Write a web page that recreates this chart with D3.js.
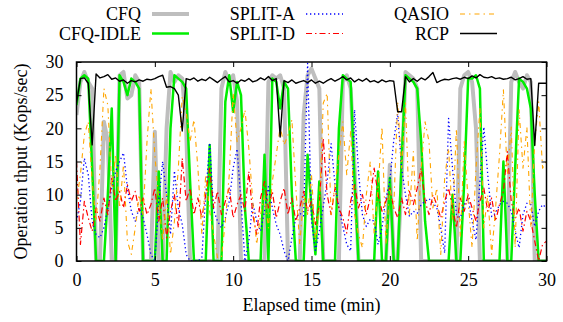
<!DOCTYPE html>
<html>
<head>
<meta charset="utf-8">
<script src="https://cdn.jsdelivr.net/npm/d3@7"></script>
<style>
  body { margin: 0; background: #fff; }
</style>
</head>
<body>
<div id="chart"></div>
<script>
// sample times (min), one sample every 15 s
const times = d3.range(0, 30.001, 0.25);

const cfq = [22,27,28.5,27,26,0,0,21,18,0,0,28,28.5,24.5,25,28,27,0,0,0,19.5,0,0,20,28.5,27,28,27.5,20,0,
  0,0,0,0,0,0,0,26,28.5,27,28,24,0,0,0,0,0,0,0,27,28,27.5,28,26,0,0,0,0,22,28,
  29,27.5,26,0,0,0,0,0,27,28,26,14,0,0,0,0,0,0,0,0,14.5,0,0,12,28.5,28,27.5,26,0,0,
  0,0,0,0,0,0,0,0,26,28,28.5,27,20,0,0,0,0,0,0,0,0,27,28.5,27,26,28,27,0,0,0,0];

const cfqIdle = [23.5,27.5,28,27.5,14,0,0,0,10,23,0,28,27,25,27.5,27,26,0,0,0,0,13.5,0,0,20,28,27.5,27,26,12,
  0,0,0,0,17.5,0,0,0,24,28,22.5,27,25,8,0,0,0,0,16,0,27.5,27,23,27,26,10,0,0,0,16,
  8,1,12,0,0,0,0,20,28,27.5,27,12,0,0,0,0,0,13.5,0,0,12.5,0,0,15,28,27.5,27,26,18,6,
  0,0,0,0,0,0,10,0,0,12,27.5,27.5,28,26,0,0,0,0,0,15,0,0,14,27.5,27,26,23,10,0,0,0];

const splitA = [6,9,15.5,13,6,4,3.5,5,8,11,13.5,15,16.3,11,7.5,6,8,6.5,4,1,0,9,15,10,4,13.6,8,5.5,1,0,
  0,0,0.5,10,17.8,7.7,6,5,6.5,9,14,16.9,9,0,3,8.8,6,4.5,7.5,11.2,8,5.5,4,1.5,0,3.5,6.5,7.2,6.8,29.8,
  6,1.6,4.5,8.2,12,17.7,11.5,8,5.2,2.5,1.5,22.8,13.5,7,5.2,6.3,6,2.5,5,9.5,12,18.2,22.2,14,10,6.7,7.5,7.2,8.5,9,
  9.4,8.8,8,5,1.2,21.5,14,7,6.5,8.5,9.5,6,3.2,12,20.2,13,6.7,7.2,8.5,9,8.7,7.5,4.5,2,7,8.7,8.5,5.2,7.5,8.5,8];

const splitD = [15,2.5,9,6.5,4.5,8,6,9.5,7,12.5,9,10.5,8,11.5,9,10.5,7.5,9.5,7,8.5,11,6,9.5,3.5,7.5,10,5,15.5,9,11,
  7,9.5,6.5,10,14,8,10.5,7,9,11,6.5,8.5,10,7.5,13.5,7,4,9.5,12,8,10.5,6.5,9,11,7,9.5,6,8,10.5,7.5,
  9,5.5,8.5,18.5,10,7,11,8,6.5,4.2,9,11.5,8,10,7,9.5,14,10,7.5,9,11,8,6.5,9.5,7,10.5,8.5,11,14,9,
  7,10,8.5,6.5,9,11,8,5,9.5,7.5,10,8,6,9,11,7.5,9.5,6,8.5,10.5,16.5,9,6.5,8,4.5,7.5,6,3,0,2.5,3];

const qasio = [9,13,19,21,12,6,14,26,23.5,11,16,8,14.5,3,1,5,10,7,18,26,16,9,3,10,1,6,14,24.8,22.5,18,
  21.3,14,4,13,7.5,4,0.5,0.5,6,13,25.3,18,20,22.8,17,9,2.5,7,10,5,12,16,20.2,17.5,19,21.3,11,2.5,10,7,
  13,3,8,23.8,25.3,7,11.5,16,21,13,19.5,7,4,2,10,15,4,11,20.2,2.5,11,8,24,14,23.8,7,16.5,3,14,21,
  18,8,11,1,12.5,17,6,20,3.5,18,9,2,14,23,5,10,1,8,16,25.8,13,20.2,2,22.8,14,20.2,5,18,24,14,15];

const rcp = [23.8,27.5,27.6,26.8,17.5,28.2,27.6,27.8,28.1,27.4,27.6,27.1,27.3,26.8,27.2,27,27.3,27.1,27.4,27.3,27.5,27.8,28,26.2,26.3,26,25,19.6,27.5,27.3,
  27.6,27.1,27.4,27.2,27.7,27.3,26.9,27.4,27.8,27,27.2,26.8,27.3,27.1,27.5,27,27.2,27.6,27.3,27.8,27.2,27.5,18.7,27.2,26.9,27.3,26.8,27,27.2,26.9,
  27.3,26.8,27.1,26.8,27.2,27.5,27.1,27.4,27.8,27.3,27.6,27,27.4,27.1,27.5,27,27.2,26.9,27.3,27,27.2,27.1,22.5,22.5,27.8,27,27.5,27.1,27.6,27.3,
  27.8,28.4,26.9,27.2,27.4,27.3,27.5,27.6,27.4,27.7,27.5,27.9,27.6,28.1,27.7,27.6,27.8,27.5,27.6,27.4,27.5,27.7,27.3,27.5,27.8,27.4,27.5,17.4,26.8,26.8,26.8];

const xTicks = [0, 5, 10, 15, 20, 25, 30];
const yTicks = [0, 5, 10, 15, 20, 25, 30];

const series = [
  {name: 'CFQ', values: cfq, color: '#bebebe', width: 4, dash: null},
  {name: 'CFQ-IDLE', values: cfqIdle, color: '#00ee00', width: 2.5, dash: null},
  {name: 'SPLIT-A', values: splitA, color: '#0000ff', width: 1.3, dash: '1.3,2.7'},
  {name: 'SPLIT-D', values: splitD, color: '#ff0000', width: 1.2, dash: '6,3,1.5,3'},
  {name: 'QASIO', values: qasio, color: '#ffa500', width: 1.1, dash: '5,4,1.5,4'},
  {name: 'RCP', values: rcp, color: '#000000', width: 1.4, dash: null}
];

const margin = {top: 62, left: 76.5};
const width = 470;
const height = 199;
const font = '"Liberation Serif"';
const fontSize = 18;

const svg = d3.select('#chart')
  .append('svg')
    .attr('width', 563)
    .attr('height', 322);

const g = svg.append('g')
  .attr('transform', 'translate(' + margin.left + ',' + margin.top + ')');

const x = d3.scaleLinear().domain([0, 30]).range([0, width]);
const y = d3.scaleLinear().domain([0, 30]).range([height, 0]);

g.append('clipPath').attr('id', 'clip')
  .append('rect').attr('width', width).attr('height', height);

// data lines
const line = d3.line()
  .x((d, i) => x(times[i]))
  .y(d => y(d));

g.append('g').attr('clip-path', 'url(#clip)')
  .selectAll('path')
  .data(series)
  .enter()
  .append('path')
    .attr('d', d => line(d.values))
    .attr('fill', 'none')
    .attr('stroke', d => d.color)
    .attr('stroke-width', d => d.width)
    .attr('stroke-dasharray', d => d.dash)
    .attr('stroke-linejoin', 'round');

// axes, gnuplot style: ticks inside, mirrored
g.append('g')
  .attr('transform', 'translate(0,' + height + ')')
  .call(d3.axisBottom(x).tickValues(xTicks).tickSize(-5).tickPadding(12));
g.append('g')
  .call(d3.axisTop(x).tickValues(xTicks).tickSize(-5).tickFormat(''));
g.append('g')
  .call(d3.axisLeft(y).tickValues(yTicks).tickSize(-5).tickPadding(13));
g.append('g')
  .attr('transform', 'translate(' + width + ',0)')
  .call(d3.axisRight(y).tickValues(yTicks).tickSize(-5).tickFormat(''));
g.selectAll('.domain').remove();
g.selectAll('.tick line').attr('stroke', '#000').attr('stroke-width', 1);
g.selectAll('g').attr('font-family', null).attr('font-size', null);

g.append('rect')
  .attr('width', width)
  .attr('height', height)
  .attr('fill', 'none')
  .attr('stroke', '#000')
  .attr('stroke-width', 1.5);

// axis titles
svg.append('text')
  .attr('x', margin.left + width / 2)
  .attr('y', 311)
  .attr('text-anchor', 'middle')
  .text('Elapsed time (min)');
svg.append('text')
  .attr('transform', 'translate(27,' + (margin.top + height / 2) + ') rotate(-90)')
  .attr('text-anchor', 'middle')
  .text('Operation thput (Kops/sec)');

// legend, two rows x three columns
const items = svg.append('g').selectAll('g')
  .data(series)
  .enter()
  .append('g')
    .attr('transform', (d, i) => 'translate(' + (141 + Math.floor(i / 2) * 154) + ',' + (14 + (i % 2) * 19.5) + ')');
items.append('text')
  .attr('text-anchor', 'end')
  .attr('dy', '0.35em')
  .text(d => d.name);
items.append('line')
  .attr('x1', 11)
  .attr('x2', 48)
  .attr('stroke', d => d.color)
  .attr('stroke-width', d => d.width)
  .attr('stroke-dasharray', d => d.dash);

// serif font on every text
svg.selectAll('text')
  .attr('font-family', font)
  .attr('font-size', fontSize)
  .attr('fill', '#000');
</script>
</body>
</html>
